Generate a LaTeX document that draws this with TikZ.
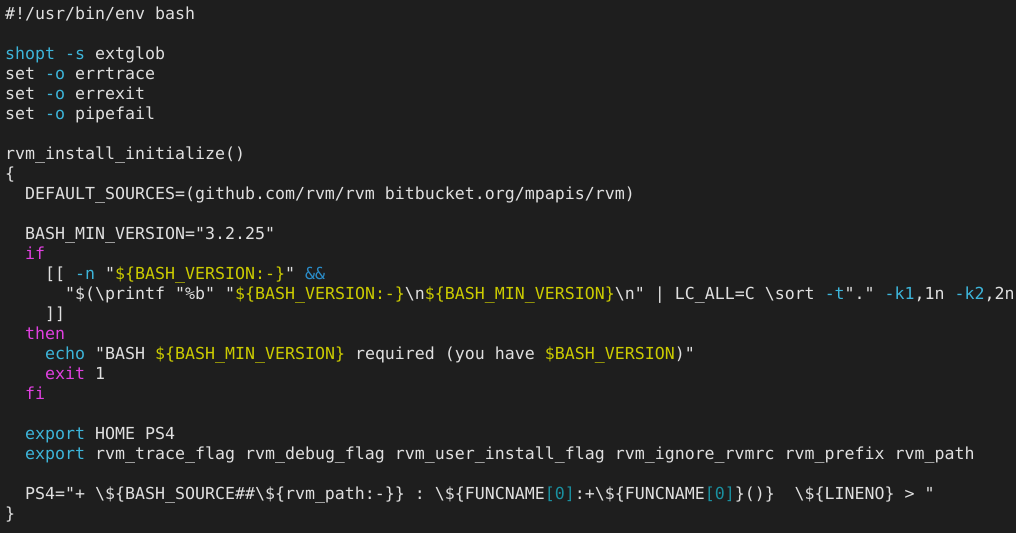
\documentclass[tikz,border=0pt]{standalone}
\usepackage{fontspec}
\setmonofont{DejaVu Sans Mono}
\definecolor{bg}{HTML}{1E1E1E}
\definecolor{fg}{HTML}{E0E0E0}
\definecolor{cy}{HTML}{3DB5DA}
\definecolor{yl}{HTML}{CCCC00}
\definecolor{mg}{HTML}{E040E0}
\definecolor{bl}{HTML}{2A8CC8}
\definecolor{tl}{HTML}{1A90A0}
\newcommand{\C}[1]{\textcolor{cy}{#1}}
\newcommand{\Y}[1]{\textcolor{yl}{#1}}
\newcommand{\M}[1]{\textcolor{mg}{#1}}
\newcommand{\B}[1]{\textcolor{bl}{#1}}
\newcommand{\T}[1]{\textcolor{tl}{#1}}
\newcommand{\bs}{\textbackslash}
\newcommand{\codeln}[3]{\node[codeline] (l#1) at ({5+10*#2},{-19-20*#1}) {#3};}
\begin{document}
\begin{tikzpicture}[x=1pt,y=1pt,
  codeline/.style={anchor=base west,inner sep=0pt,text=fg,font=\ttfamily\fontsize{16.6}{20}\selectfont}]
\useasboundingbox (0,0) rectangle (1016,-533);
\fill[bg] (0,0) rectangle (1016,-533);
\clip (0,0) rectangle (1016,-533);
\codeln{0}{0}{\#!/usr/bin/env bash}
\codeln{2}{0}{\C{shopt -s} extglob}
\codeln{3}{0}{set \C{-o} errtrace}
\codeln{4}{0}{set \C{-o} errexit}
\codeln{5}{0}{set \C{-o} pipefail}
\codeln{7}{0}{rvm\_install\_initialize()}
\codeln{8}{0}{\{}
\codeln{9}{2}{DEFAULT\_SOURCES=(github.com/rvm/rvm bitbucket.org/mpapis/rvm)}
\codeln{11}{2}{BASH\_MIN\_VERSION="3.2.25"}
\codeln{12}{2}{\M{if}}
\codeln{13}{4}{[[ \C{-n} "\Y{\$\{BASH\_VERSION:-\}}" \B{\&\&}}
\codeln{14}{6}{"\$(\bs printf "\%b" "\Y{\$\{BASH\_VERSION:-\}}\bs n\Y{\$\{BASH\_MIN\_VERSION\}}\bs n" | LC\_ALL=C \bs sort \C{-t}"." \C{-k1},1n \C{-k2},2n}
\codeln{15}{4}{]]}
\codeln{16}{2}{\M{then}}
\codeln{17}{4}{\C{echo} "BASH \Y{\$\{BASH\_MIN\_VERSION\}} required (you have \Y{\$BASH\_VERSION})"}
\codeln{18}{4}{\M{exit} 1}
\codeln{19}{2}{\M{fi}}
\codeln{21}{2}{\C{export} HOME PS4}
\codeln{22}{2}{\C{export} rvm\_trace\_flag rvm\_debug\_flag rvm\_user\_install\_flag rvm\_ignore\_rvmrc rvm\_prefix rvm\_path}
\codeln{24}{2}{PS4="+ \bs\$\{BASH\_SOURCE\#\#\bs\$\{rvm\_path:-\}\} : \bs\$\{FUNCNAME\T{[0]}:+\bs\$\{FUNCNAME\T{[0]}\}()\}\ \ \bs\$\{LINENO\} > "}
\codeln{25}{0}{\}}
\end{tikzpicture}
\end{document}
